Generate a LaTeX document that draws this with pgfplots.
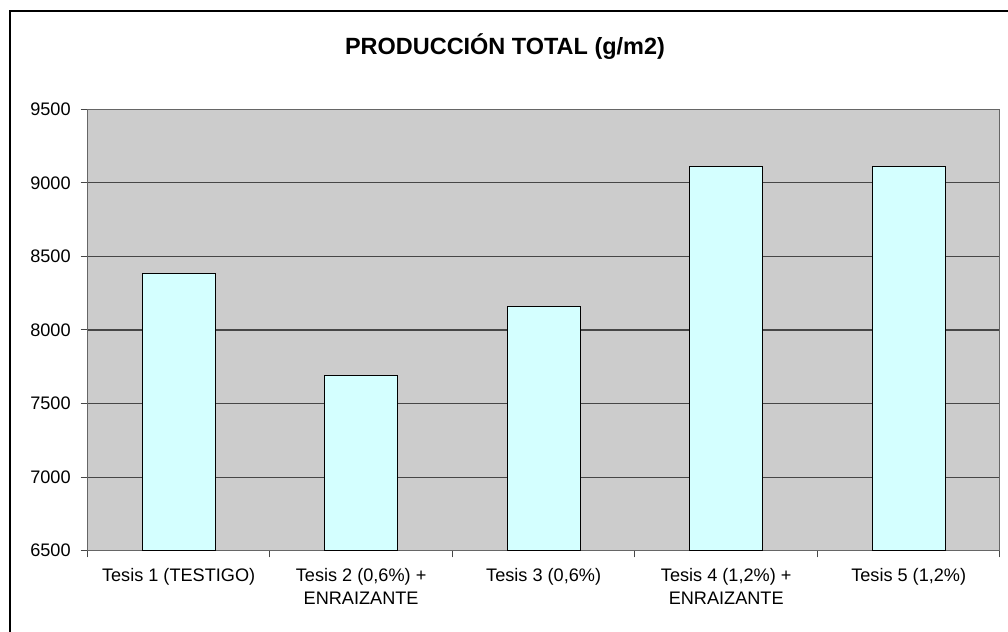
\documentclass[border=0pt]{standalone}
\usepackage{fontspec}
\setmainfont{Liberation Sans}
\usepackage{pgfplots}
\pgfplotsset{compat=1.18}
\definecolor{fondo}{RGB}{204,204,204}
\definecolor{barra}{RGB}{212,255,255}
\definecolor{rejilla}{RGB}{70,70,70}
\begin{document}
\begin{tikzpicture}
\clip (0,0) rectangle (756pt,474pt);
% marco exterior (cortado a la derecha y abajo)
\draw[line width=1.8pt] (7.5pt,-10pt) -- (7.5pt,465.75pt) -- (770pt,465.75pt);
\node[font=\bfseries\fontsize{17.6}{20}\selectfont] at (378.75pt,438.75pt) {PRODUCCIÓN TOTAL (g/m2)};
\begin{axis}[
  at={(65.5pt,61pt)}, anchor=south west,
  width=684.5pt, height=331pt, scale only axis,
  axis background/.style={fill=fondo},
  axis line style={draw=black!60, line width=0.75pt},
  ymin=6500, ymax=9500, ytick={6500,7000,...,9500},
  xmin=-0.5, xmax=4.5,
  xtick={0,...,4},
  xticklabels={{Tesis 1 (TESTIGO)}, {Tesis 2 (0,6\%) +\\ENRAIZANTE}, {Tesis 3 (0,6\%)}, {Tesis 4 (1,2\%) +\\ENRAIZANTE}, {Tesis 5 (1,2\%)}},
  xticklabel style={align=center, font=\fontsize{13.6}{17.5}\selectfont, yshift=-4.5pt},
  yticklabel style={font=\fontsize{13.6}{16}\selectfont, xshift=-4pt},
  /pgf/number format/assume math mode=true,
  /pgf/number format/1000 sep={},
  ymajorgrids, major grid style={draw=rejilla, line width=0.8pt},
  tick pos=left, tick align=outside, major tick length=5pt,
  ytick style={draw=rejilla, line width=0.75pt},
  xtick style={draw=none},
  extra x ticks={-0.5,0.5,...,4.5}, extra x tick labels={},
  extra x tick style={xtick style={draw=rejilla, line width=0.75pt}, grid=none},
  ybar, bar width=0.4,
]
\addplot[fill=barra, draw=black, line width=0.75pt]
  coordinates {(0,8387) (1,7692) (2,8158) (3,9111) (4,9111)};
\end{axis}
\end{tikzpicture}
\end{document}
